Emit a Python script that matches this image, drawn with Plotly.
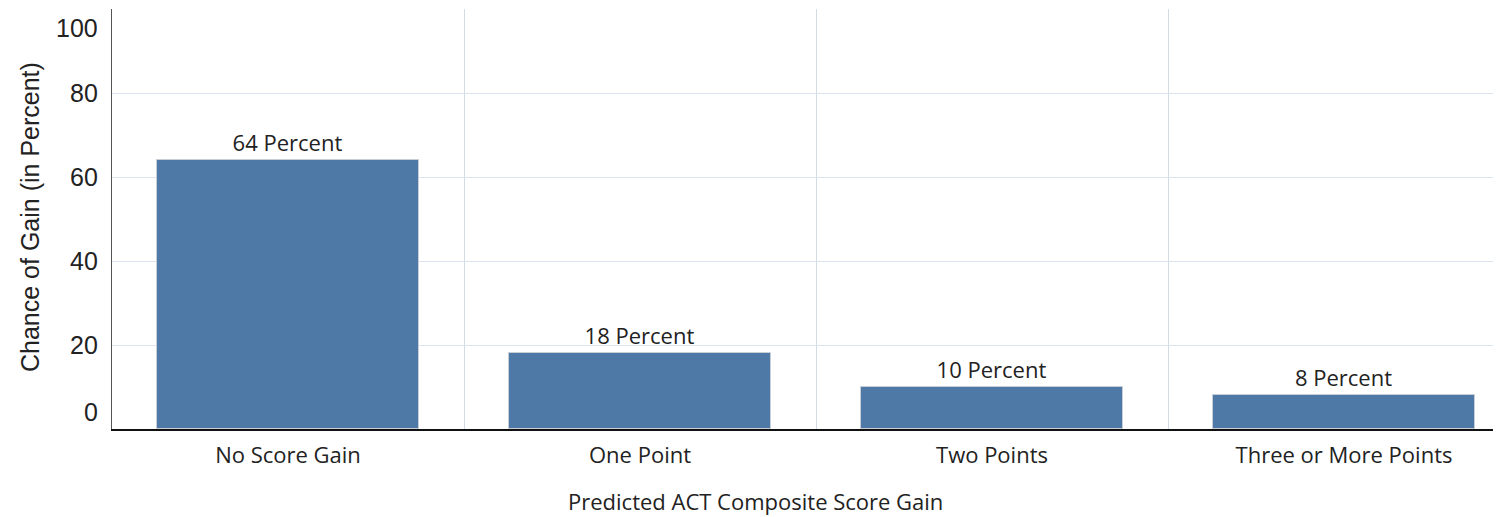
import plotly.graph_objects as go

categories = ["No Score Gain", "One Point", "Two Points", "Three or More Points"]
values = [64, 18, 10, 8]
bar_labels = ["64 Percent", "18 Percent", "10 Percent", "8 Percent"]
y_ticks = [0, 20, 40, 60, 80, 100]
y_tick_text = ["0", "20", "40", "60", "80", "100"]

# page body has an 8px default margin; compensate so plot sits where the reference has it
OFF = 8
W, H = 1501 - OFF, 517 - OFF
LFT, TOP, BOT = 112 - OFF, 9 - OFF, 88

fig = go.Figure()
fig.add_trace(go.Bar(
    x=categories, y=values,
    width=0.745,
    marker=dict(color="#4e79a7", line=dict(color="#c9ced6", width=1)),
    text=bar_labels, textposition="outside", cliponaxis=False,
    textfont=dict(family="Open Sans", size=22, color="#222222"),
    hoverinfo="skip",
))

# y tick labels (shifted at the ends as in the reference)
for v, t in zip(y_ticks, y_tick_text):
    shift = 0
    if v == y_ticks[0]:
        shift = 17
    elif v == y_ticks[-1]:
        shift = -19
    fig.add_annotation(
        x=0, xref="paper", y=v, yref="y", text=t, showarrow=False,
        xanchor="right", yanchor="middle", xshift=-12, yshift=shift,
        font=dict(family="Liberation Sans", size=25, color="#222222"),
    )

fig.add_annotation(
    x=0, xref="paper", y=0.5, yref="paper", text="Chance of Gain (in Percent)",
    showarrow=False, textangle=-90, xanchor="center", yanchor="middle",
    xshift=-82, yshift=2,
    font=dict(family="Liberation Sans", size=25, color="#222222"),
)

fig.add_annotation(
    x=0, xref="paper", y=0, yref="paper", text="Predicted ACT Composite Score Gain",
    showarrow=False, xanchor="center", yanchor="middle",
    xshift=(755 - 112), yshift=-72,
    font=dict(family="Open Sans", size=22, color="#222222"),
)

fig.update_layout(
    width=W, height=H,
    margin=dict(l=LFT, r=0, t=TOP, b=BOT, pad=0),
    paper_bgcolor="white", plot_bgcolor="white",
    showlegend=False,
    bargap=0,
    xaxis=dict(
        type="category", range=[-0.5, 3.446],
        tickson="boundaries", ticks="", showgrid=True,
        gridcolor="#d3dbe6", gridwidth=1,
        showline=True, linecolor="#111111", linewidth=2,
        tickfont=dict(family="Open Sans", size=22, color="#222222"),
        ticklabelstandoff=6,
        fixedrange=True,
    ),
    yaxis=dict(
        range=[0, 100], tickvals=y_ticks, showticklabels=False,
        showgrid=True, gridcolor="#dbe3ee", gridwidth=1,
        zeroline=False, showline=True, linecolor="#555555", linewidth=1,
        ticks="", fixedrange=True,
    ),
)

fig.write_html("out.html")
